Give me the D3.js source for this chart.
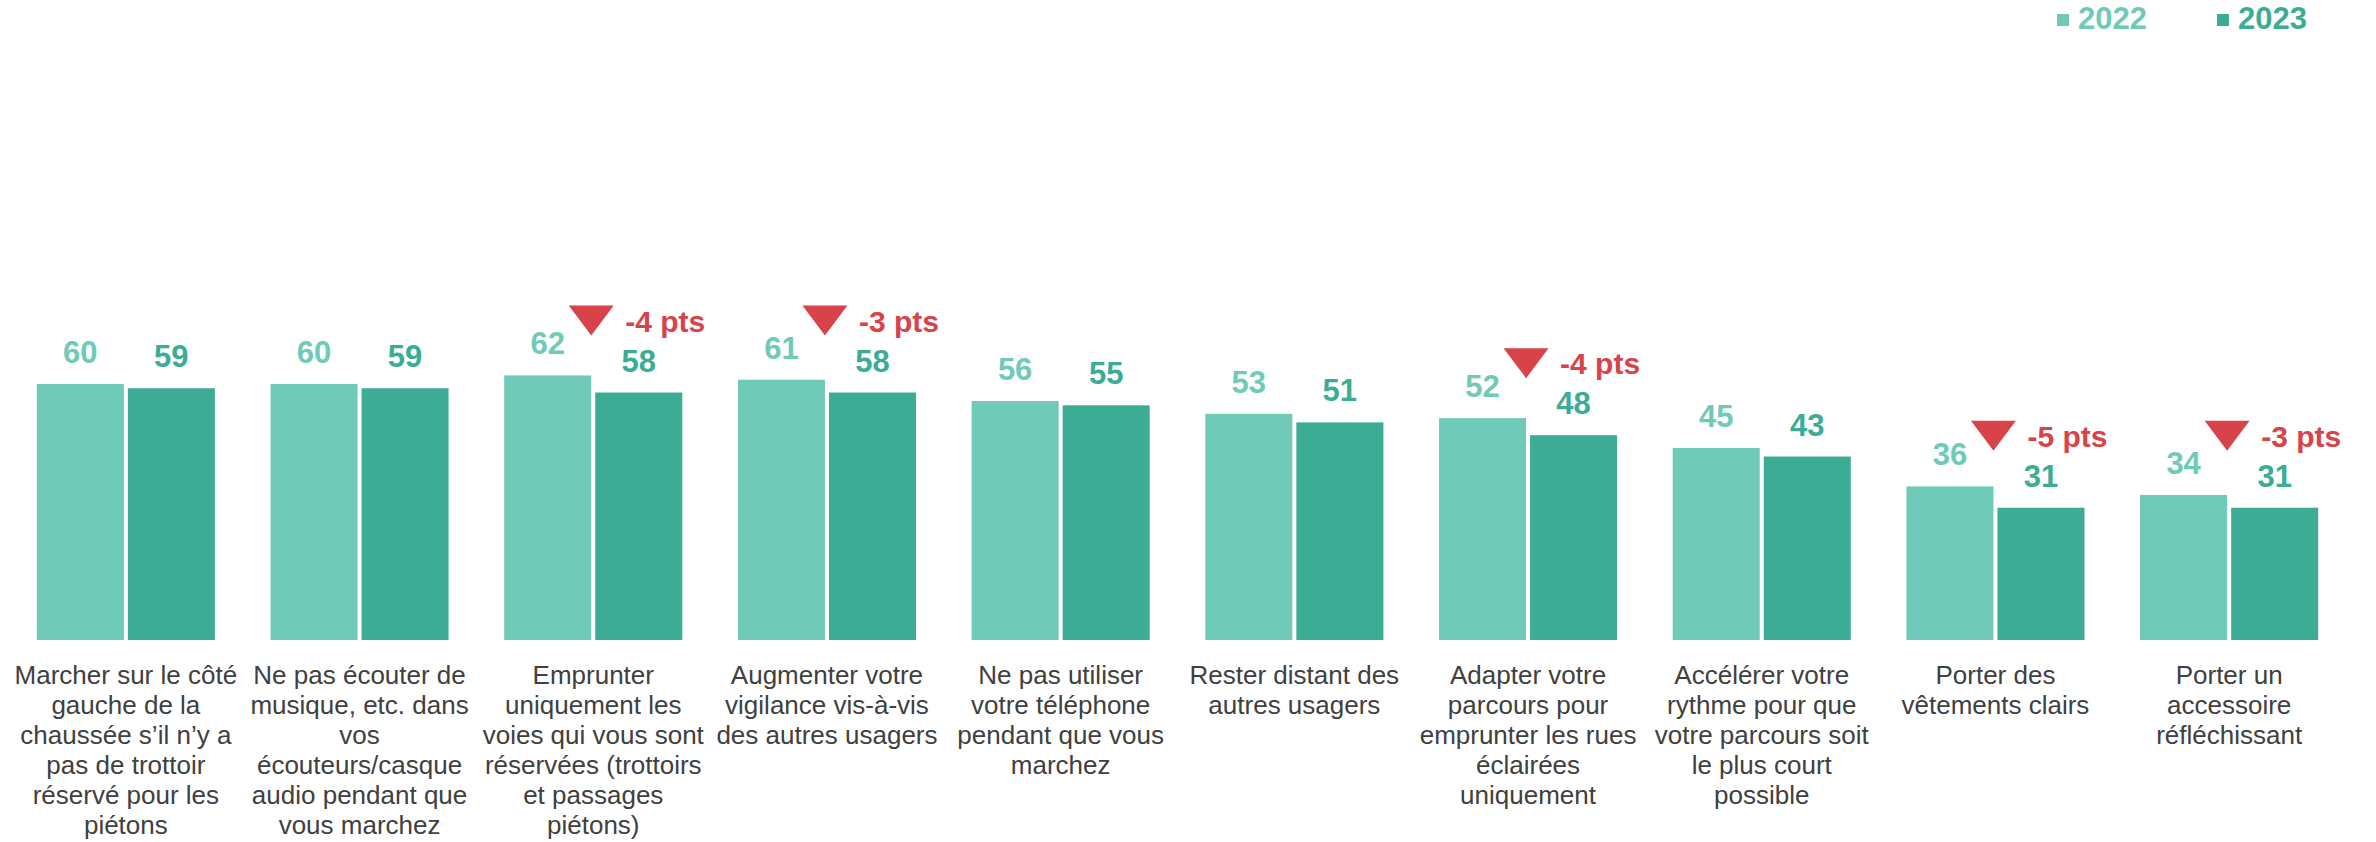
<!DOCTYPE html>
<html lang="fr">
<head>
  <meta charset="UTF-8">
  <title>Comportements piétons 2022 / 2023</title>
  <script src="https://d3js.org/d3.v7.min.js"></script>
  <style>
    body { margin: 0; background: #fff; }
    svg { display: block; font-family: "Liberation Sans", Arial, sans-serif; }
  </style>
</head>
<body>
  <svg id="chart" width="2376" height="842"></svg>

  <script>
    // data
    const categories = [
      "Marcher sur le côté\ngauche de la\nchaussée s’il n’y a\npas de trottoir\nréservé pour les\npiétons",
      "Ne pas écouter de\nmusique, etc. dans\nvos\nécouteurs/casque\naudio pendant que\nvous marchez",
      "Emprunter\nuniquement les\nvoies qui vous sont\nréservées (trottoirs\net passages\npiétons)",
      "Augmenter votre\nvigilance vis-à-vis\ndes autres usagers",
      "Ne pas utiliser\nvotre téléphone\npendant que vous\nmarchez",
      "Rester distant des\nautres usagers",
      "Adapter votre\nparcours pour\nemprunter les rues\néclairées\nuniquement",
      "Accélérer votre\nrythme pour que\nvotre parcours soit\nle plus court\npossible",
      "Porter des\nvêtements clairs",
      "Porter un\naccessoire\nréfléchissant"
    ];
    const years = ["2022", "2023"];
    const values2022 = [60, 60, 62, 61, 56, 53, 52, 45, 36, 34];
    const values2023 = [59, 59, 58, 58, 55, 51, 48, 43, 31, 31];
    // significant drops shown with a red triangle
    const dropCats = [2, 3, 6, 8, 9];
    const dropLabels = ["-4 pts", "-3 pts", "-4 pts", "-5 pts", "-3 pts"];

    const colors = { "2022": "#6fcab7", "2023": "#3dac94" };
    const red = "#d8434a";

    const svg = d3.select("#chart");
    const baseY = 640;

    const x0 = d3.scaleBand()
      .domain(d3.range(categories.length))
      .range([9, 2346])
      .paddingInner(0.238)
      .paddingOuter(0.119);

    const x1 = d3.scaleBand()
      .domain(years)
      .range([0, x0.bandwidth()])
      .paddingInner(0.044);

    const y = d3.scaleLinear().domain([0, 100]).range([baseY, baseY - 426.7]);

    const rows = categories.map((c, i) => ({
      i,
      vals: [
        { year: "2022", v: values2022[i] },
        { year: "2023", v: values2023[i] }
      ]
    }));

    const groups = svg.append("g")
      .selectAll("g")
      .data(rows)
      .join("g")
        .attr("transform", d => `translate(${x0(d.i)},0)`);

    groups.selectAll("rect")
      .data(d => d.vals)
      .join("rect")
        .attr("x", d => x1(d.year))
        .attr("y", d => y(d.v))
        .attr("width", x1.bandwidth())
        .attr("height", d => baseY - y(d.v))
        .attr("fill", d => colors[d.year]);

    groups.selectAll("text.val")
      .data(d => d.vals)
      .join("text")
        .attr("class", "val")
        .attr("x", d => x1(d.year) + x1.bandwidth() / 2)
        .attr("y", d => y(d.v) - 21)
        .attr("text-anchor", "middle")
        .style("font-size", "31px")
        .style("font-weight", "bold")
        .attr("fill", d => colors[d.year])
        .text(d => d.v);

    // category labels, on an axis with no line and no ticks
    const xAxis = svg.append("g")
      .attr("transform", `translate(0,${baseY})`)
      .call(d3.axisBottom(x0).tickSize(0).tickFormat(""));
    xAxis.select(".domain").remove();

    xAxis.selectAll(".tick text")
      .attr("y", 0)
      .attr("dy", null)
      .attr("fill", "#404040")
      .style("font-size", "26px")
      .style("font-family", "'Liberation Sans', Arial, sans-serif")
      .each(function(d) {
        const t = d3.select(this);
        categories[d].split("\n").forEach((line, k) => {
          t.append("tspan")
            .attr("x", 0)
            .attr("y", 44 + k * 30)
            .text(line);
        });
      });

    // drop annotations
    const ann = svg.append("g")
      .selectAll("g")
      .data(dropCats.map((c, k) => ({ c, label: dropLabels[k] })))
      .join("g")
        .attr("transform", d => {
          const cx = x0(d.c) + x0.bandwidth() / 2 - 2;
          const top = y(values2023[d.c]) - 87;
          return `translate(${cx},${top})`;
        });

    ann.append("path")
      .attr("d", "M-22.5,0 L22.5,0 L0,30 Z")
      .attr("fill", red);

    ann.append("text")
      .attr("x", 34)
      .attr("y", 26)
      .attr("fill", red)
      .style("font-size", "30px")
      .style("font-weight", "bold")
      .text(d => d.label);

    // legend, top right
    const legend = svg.append("g")
      .selectAll("g")
      .data(years)
      .join("g")
        .attr("transform", (d, i) => `translate(${2057 + i * 160},0)`);

    legend.append("rect")
      .attr("y", 14)
      .attr("width", 12)
      .attr("height", 12)
      .attr("fill", d => colors[d]);

    legend.append("text")
      .attr("x", 21)
      .attr("y", 29)
      .attr("fill", d => colors[d])
      .style("font-size", "31px")
      .style("font-weight", "bold")
      .text(d => d);
  </script>
</body>
</html>
